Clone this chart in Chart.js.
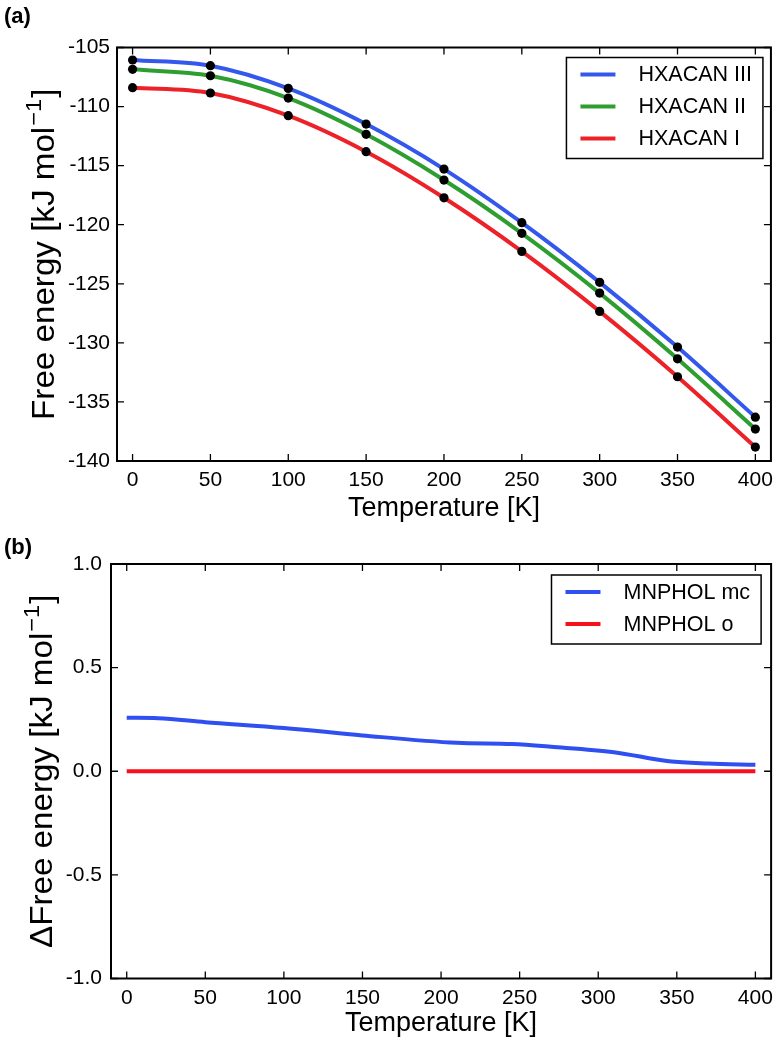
<!DOCTYPE html>
<html><head><meta charset="utf-8">
<script src="https://cdn.jsdelivr.net/npm/chart.js@4.4.0/dist/chart.umd.min.js"></script>
<style>
html,body{margin:0;padding:0;background:#fff;}
#wrapA{position:absolute;left:0;top:0;width:780px;height:530px;}
#wrapB{position:absolute;left:0;top:530px;width:780px;height:514px;}
</style></head><body>
<div id="wrapA"><canvas id="cA"></canvas></div>
<div id="wrapB"><canvas id="cB"></canvas></div>
<script>
// ---------- data (panel a) ----------
const temperaturesA = [0, 50, 100, 150, 200, 250, 300, 350, 400];
const hxacanIII = [-106.06, -106.54, -108.46, -111.48, -115.29, -119.83, -124.88, -130.36, -136.29];
const hxacanII  = [-106.85, -107.39, -109.28, -112.35, -116.22, -120.73, -125.79, -131.35, -137.30];
const hxacanI   = [-108.40, -108.85, -110.77, -113.82, -117.72, -122.26, -127.34, -132.87, -138.82];
const xTickValues = [0, 50, 100, 150, 200, 250, 300, 350, 400];
const yTickValuesA = [-140, -135, -130, -125, -120, -115, -110, -105];
// ---------- data (panel b) ----------
const temperaturesB = [0, 20, 50, 100, 150, 210, 245, 270, 310, 345, 370, 400];
const mnpholMc = [0.258, 0.256, 0.237, 0.209, 0.173, 0.137, 0.131, 0.118, 0.092, 0.048, 0.037, 0.031];
const mnpholO  = [0, 0, 0, 0, 0, 0, 0, 0, 0, 0, 0, 0];
const yTickValuesB = [-1.0, -0.5, 0.0, 0.5, 1.0];

const FONT = "'Liberation Sans', Arial, Helvetica, sans-serif";

function pts(xs, ys){ return xs.map((x,i)=>({x:x, y:ys[i]})); }

function decorPlugin(cfg){
  return {
    id:'decor',
    afterDraw(chart){
      const ctx = chart.ctx, a = chart.chartArea, xs = chart.scales.x, ys = chart.scales.y;
      ctx.save();
      // inward tick marks on all four sides
      ctx.strokeStyle = '#000'; ctx.lineWidth = 1.3;
      ctx.beginPath();
      xs.ticks.forEach(t=>{
        const p = xs.getPixelForValue(t.value);
        ctx.moveTo(p, a.bottom); ctx.lineTo(p, a.bottom-7);
        ctx.moveTo(p, a.top); ctx.lineTo(p, a.top+7);
      });
      ys.ticks.forEach(t=>{
        const p = ys.getPixelForValue(t.value);
        ctx.moveTo(a.left, p); ctx.lineTo(a.left+7, p);
        ctx.moveTo(a.right, p); ctx.lineTo(a.right-7, p);
      });
      ctx.stroke();
      // frame
      ctx.lineWidth = 2;
      ctx.strokeRect(a.left, a.top, a.right-a.left, a.bottom-a.top);

      // legend
      const ds = chart.data.datasets;
      const lf = 21.5;
      ctx.font = lf + 'px ' + FONT;
      const tw = Math.max(...ds.map(d=>ctx.measureText(d.label).width));
      const padL = 14, lineLen = 35, gap = 23, padR = 11, rowGap = 32, padT = 17, padB = 20;
      const bw = padL + lineLen + gap + tw + padR;
      const bh = padT + rowGap*(ds.length-1) + padB;
      const bx = a.right - cfg.legRight - bw, by = a.top + cfg.legTop;
      ctx.fillStyle = '#fff';
      ctx.fillRect(bx, by, bw, bh);
      ctx.lineWidth = 1.5; ctx.strokeStyle = '#000';
      ctx.strokeRect(bx, by, bw, bh);
      ds.forEach((d,i)=>{
        const ry = by + padT + i*rowGap;
        ctx.strokeStyle = d.borderColor; ctx.lineWidth = 4;
        ctx.beginPath(); ctx.moveTo(bx+padL, ry); ctx.lineTo(bx+padL+lineLen, ry); ctx.stroke();
        ctx.fillStyle = '#000'; ctx.textBaseline = 'middle'; ctx.textAlign = 'left';
        ctx.fillText(d.label, bx+padL+lineLen+gap, ry+1);
      });

      // y-axis title with superscript (drawn slightly elongated along its length)
      const s = 31, stretch = 1.07;
      const cy = (a.top + a.bottom)/2;
      ctx.translate(cfg.titleBase, cy);
      ctx.rotate(-Math.PI/2);
      ctx.scale(stretch, 1);
      ctx.fillStyle = '#000'; ctx.textBaseline = 'alphabetic'; ctx.textAlign = 'left';
      const main = cfg.yTitle, sup = '\u22121', tail = ']';
      ctx.font = s + 'px ' + FONT;
      const wMain = ctx.measureText(main).width, wTail = ctx.measureText(tail).width;
      ctx.font = Math.round(s*0.7) + 'px ' + FONT;
      const wSup = ctx.measureText(sup).width;
      let x0 = -(wMain + wSup + 2 + wTail)/2;
      ctx.font = s + 'px ' + FONT;
      ctx.fillText(main, x0, 0); x0 += wMain + 1;
      ctx.font = Math.round(s*0.7) + 'px ' + FONT;
      ctx.fillText(sup, x0, -s*0.42); x0 += wSup + 1;
      ctx.font = s + 'px ' + FONT;
      ctx.fillText(tail, x0, 0);
      ctx.setTransform(1,0,0,1,0,0);

      // panel label
      ctx.font = 'bold 22px ' + FONT;
      ctx.fillStyle = '#000'; ctx.textBaseline = 'middle'; ctx.textAlign = 'left';
      ctx.fillText(cfg.panel, 4, cfg.panelY);
      ctx.restore();
    }
  };
}

function makeOptions(c){
  return {
    responsive:true, maintainAspectRatio:false, animation:false,
    layout:{padding:{top:c.padTop, right:c.padRight, left:0, bottom:0}},
    plugins:{legend:{display:false}, tooltip:{enabled:false}},
    scales:{
      x:{
        type:'linear', min:-10, max:410,
        afterBuildTicks:(sc)=>{ sc.ticks = xTickValues.map(v=>({value:v})); },
        afterFit:(sc)=>{ sc.height = c.xH; },
        grid:{display:false, drawTicks:false}, border:{display:false},
        ticks:{color:'#000', padding:c.xPad, maxRotation:0, autoSkip:false, font:{family:FONT, size:21}},
        title:{display:true, text:'Temperature [K]', color:'#000', font:{family:FONT, size:27}, padding:{top:0, bottom:c.xTitlePad}}
      },
      y:{
        type:'linear', min:c.yMin, max:c.yMax,
        afterBuildTicks:(sc)=>{ sc.ticks = c.yTicks.map(v=>({value:v})); },
        afterFit:(sc)=>{ sc.width = c.yW; },
        grid:{display:false, drawTicks:false}, border:{display:false},
        ticks:{color:'#000', padding:c.yPad, autoSkip:false, font:{family:FONT, size:21}, callback:c.fmt},
        title:{display:false}
      }
    }
  };
}

new Chart(document.getElementById('cA'), {
  type:'line',
  data:{datasets:[
    {label:'HXACAN III', data:pts(temperaturesA, hxacanIII), borderColor:'#3458ec', borderWidth:4, cubicInterpolationMode:'monotone', pointRadius:4.6, pointBackgroundColor:'#000', pointBorderColor:'#000', pointBorderWidth:0, fill:false},
    {label:'HXACAN II',  data:pts(temperaturesA, hxacanII),  borderColor:'#2e9e30', borderWidth:4, cubicInterpolationMode:'monotone', pointRadius:4.6, pointBackgroundColor:'#000', pointBorderColor:'#000', pointBorderWidth:0, fill:false},
    {label:'HXACAN I',   data:pts(temperaturesA, hxacanI),   borderColor:'#ec2228', borderWidth:4, cubicInterpolationMode:'monotone', pointRadius:4.6, pointBackgroundColor:'#000', pointBorderColor:'#000', pointBorderWidth:0, fill:false}
  ]},
  options:makeOptions({padTop:47.5, padRight:5, xH:69, yW:117, xPad:7, yPad:7, xTitlePad:5, yMin:-140, yMax:-105, yTicks:yTickValuesA, fmt:(v)=>String(v)}),
  plugins:[decorPlugin({legRight:8, legTop:10, titleBase:54, yTitle:'Free energy [kJ mol', panel:'(a)', panelY:17})]
});

new Chart(document.getElementById('cB'), {
  type:'line',
  data:{datasets:[
    {label:'MNPHOL mc', data:pts(temperaturesB, mnpholMc), borderColor:'#2f4ff0', borderWidth:4, cubicInterpolationMode:'monotone', pointRadius:0, fill:false},
    {label:'MNPHOL o',  data:pts(temperaturesB, mnpholO),  borderColor:'#f5101c', borderWidth:4, pointRadius:0, fill:false}
  ]},
  options:makeOptions({padTop:34, padRight:4, xH:65.5, yW:111, xPad:7, yPad:9, xTitlePad:4, yMin:-1, yMax:1, yTicks:yTickValuesB, fmt:(v)=>Number(v).toFixed(1)}),
  plugins:[decorPlugin({legRight:10, legTop:11, titleBase:52, yTitle:'\u0394Free energy [kJ mol', panel:'(b)', panelY:18})]
});
</script>
</body></html>
